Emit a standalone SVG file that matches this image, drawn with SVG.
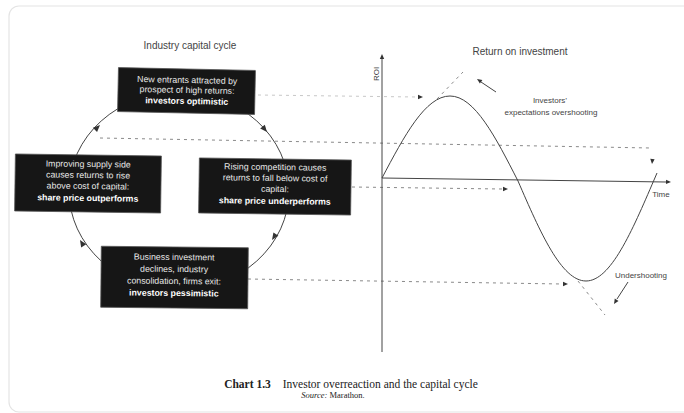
<svg xmlns="http://www.w3.org/2000/svg" width="684" height="413" viewBox="0 0 684 413">
<style>
.bg{fill:#ffffff}
.frame{fill:none;stroke:#e4e4e4;stroke-width:1.2}
.box{fill:#161616;stroke:#555;stroke-width:0.8}
.bt{font-family:"Liberation Sans",Arial,sans-serif;font-size:8.8px;fill:#e8e8e8;text-anchor:middle}
.bb{font-weight:bold;fill:#ffffff}
.ttl{font-family:"Liberation Sans",Arial,sans-serif;font-size:10px;fill:#444;text-anchor:middle}
.lbl{font-family:"Liberation Sans",Arial,sans-serif;font-size:8px;fill:#444;text-anchor:middle}
.line{fill:none;stroke:#444;stroke-width:1}
.dash{fill:none;stroke:#8a8a8a;stroke-width:1;stroke-dasharray:3 4}
.faint{fill:none;stroke:#c8c8c8;stroke-width:1;stroke-dasharray:3 4}
.ah{fill:#333}
.cap{font-family:"Liberation Serif","Times New Roman",serif;fill:#222;text-anchor:middle}
</style>
<defs>
<path id="ah" d="M0,0 L-7,-3 L-7,3 Z"/>
<path id="ahs" d="M0,0 L-5,-2.2 L-5,2.2 Z"/>
</defs>
<rect class="bg" x="0" y="0" width="684" height="413"/>
<rect class="frame" x="9" y="6" width="690" height="406" rx="10"/>

<text class="ttl" x="190" y="49">Industry capital cycle</text>
<text class="ttl" x="520" y="55">Return on investment</text>

<g id="connectors">
<ellipse class="line" cx="179" cy="191" rx="110" ry="99"/>
<use href="#ah" class="ah" transform="translate(100,125) rotate(-44)"/>
<use href="#ah" class="ah" transform="translate(267,132) rotate(50)"/>
<use href="#ah" class="ah" transform="translate(272,240) rotate(124)"/>
<use href="#ah" class="ah" transform="translate(80,240) rotate(238)"/>

<path class="dash" d="M100,138 L651,148"/>
<use href="#ahs" class="ah" transform="translate(652,164) rotate(95)"/>
<path class="faint" d="M258,95 L417,97"/>
<use href="#ahs" class="ah" transform="translate(423,97)"/>
<path class="dash" d="M352,187 L502,189"/>
<use href="#ahs" class="ah" transform="translate(508,189)"/>
<path class="dash" d="M248,279 L562,284"/>
<use href="#ahs" class="ah" transform="translate(568,284)"/>

<path class="line" d="M382,352 L382,58"/>
<use href="#ahs" class="ah" transform="translate(382,54) rotate(-90)"/>
<path class="line" d="M382,178 L666,182"/>
<use href="#ahs" class="ah" transform="translate(671,182) rotate(1)"/>

<path class="line" d="M382,178 C404.2,136 425.4,96 450,96 C474.6,96 495.8,137.5 518,181 C540.2,232.2 561.4,281 586,281 C610.6,281 631.8,231.7 654,180 L657,173"/>

<path class="dash" d="M437,99 L463,72"/>
<path class="line" d="M496,92 L481,82" stroke="#666"/>
<use href="#ahs" class="ah" transform="translate(477,79) rotate(214)"/>
<path class="dash" d="M578,281 L605,315"/>
<path class="line" d="M628,282 L617,299" stroke="#666"/>
<use href="#ahs" class="ah" transform="translate(614,304) rotate(122)"/>
</g>

<text class="lbl" transform="translate(379,74) rotate(-90)">ROI</text>
<text class="lbl" x="661" y="197">Time</text>
<text class="lbl" x="550" y="103">Investors’</text>
<text class="lbl" x="551" y="115">expectations overshooting</text>
<text class="lbl" x="641" y="278">Undershooting</text>

<g id="node-top" transform="rotate(1.2 186 91)">
<rect class="box" x="118" y="69" width="137" height="44"/>
<text class="bt" x="187" y="83">New entrants attracted by</text>
<text class="bt" x="187" y="93">prospect of high returns:</text>
<text class="bt bb" x="187" y="104">investors optimistic</text>
</g>
<g id="node-left" transform="rotate(0.8 88 183)">
<rect class="box" x="15" y="155" width="146" height="57"/>
<text class="bt" x="88" y="167">Improving supply side</text>
<text class="bt" x="88" y="178">causes returns to rise</text>
<text class="bt" x="88" y="189">above cost of capital:</text>
<text class="bt bb" x="88" y="201">share price outperforms</text>
</g>
<g id="node-right" transform="rotate(0.8 275 186)">
<rect class="box" x="199" y="159" width="152" height="55"/>
<text class="bt" x="275" y="170">Rising competition causes</text>
<text class="bt" x="275" y="181">returns to fall below cost of</text>
<text class="bt" x="275" y="192">capital:</text>
<text class="bt bb" x="275" y="204">share price underperforms</text>
</g>
<g id="node-bottom" transform="rotate(0.6 174 277)">
<rect class="box" x="101" y="247" width="147" height="61"/>
<text class="bt" x="174" y="260">Business investment</text>
<text class="bt" x="174" y="272">declines, industry</text>
<text class="bt" x="174" y="284">consolidation, firms exit:</text>
<text class="bt bb" x="174" y="296">investors pessimistic</text>
</g>

<text class="cap" x="351" y="388" font-size="11.5"><tspan font-weight="bold">Chart 1.3</tspan><tspan dx="12">Investor overreaction and the capital cycle</tspan></text>
<text class="cap" x="333" y="398" font-size="8.5"><tspan font-style="italic">Source:</tspan> Marathon.</text>
</svg>
